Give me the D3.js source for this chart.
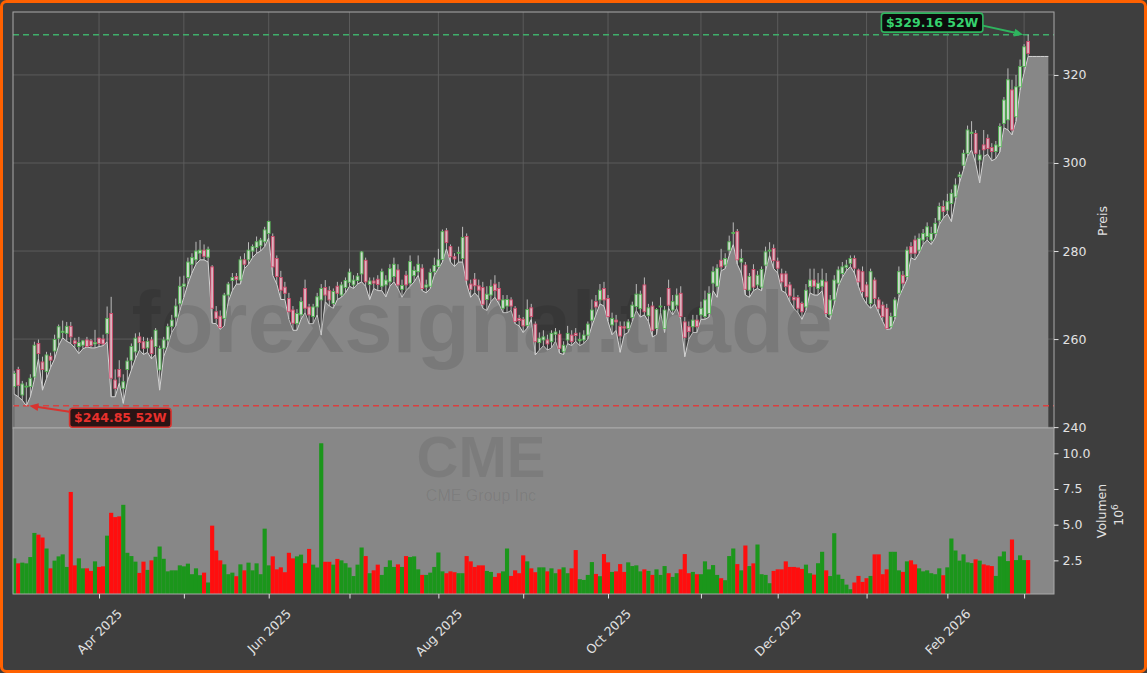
<!DOCTYPE html>
<html><head><meta charset="utf-8">
<script src="https://cdn.jsdelivr.net/npm/d3@7"></script>
<style>
html,body{margin:0;padding:0;background:#3e3e3e;}
svg{display:block;font-family:"DejaVu Sans",sans-serif;}
</style></head><body>
<svg id="chart" width="1147" height="673"></svg>
<script>
// ---------- DATA (trading days 2025-03-03 .. 2026-03-03) ----------
const opens=[249.2,253.1,247.3,249.1,249.2,251.4,259.0,254.8,252.6,256.1,
257.3,260.2,261.5,261.3,262.9,259.6,258.3,258.6,259.8,259.6,
258.9,260.2,260.0,261.3,265.8,250.7,253.1,248.8,253.1,255.2,
257.1,260.5,259.4,258.0,259.8,258.3,253.0,257.9,259.8,262.9,
265.0,268.0,272.0,274.0,277.0,278.0,279.5,280.2,278.6,276.4,
266.2,265.2,264.7,270.0,273.3,274.2,273.4,278.0,278.0,280.0,
280.8,281.2,282.1,284.0,283.3,278.3,274.0,271.8,269.2,266.6,
263.5,265.5,271.5,267.3,265.1,267.3,268.9,271.7,271.0,268.1,
272.0,270.0,271.7,272.9,272.3,273.3,274.8,277.9,272.4,273.2,
273.6,272.0,272.3,273.0,274.2,275.7,271.3,274.5,272.7,274.4,
275.3,276.1,271.8,272.0,275.3,276.5,278.1,284.6,281.0,278.7,
279.5,278.3,283.3,272.5,273.6,272.1,271.7,269.0,270.0,272.5,
271.5,267.0,267.5,268.9,267.0,264.7,264.5,263.1,267.1,263.4,
259.2,259.8,259.8,259.4,261.1,261.1,257.1,259.8,260.9,261.3,
259.6,259.8,260.9,264.3,268.5,268.9,271.5,269.2,263.2,264.3,
262.9,262.8,262.4,264.9,267.4,266.9,272.3,265.3,267.5,262.4,
267.3,262.4,271.5,266.6,267.7,270.4,263.9,262.8,262.8,264.3,
265.5,265.1,265.8,272.7,272.0,277.9,276.8,280.2,284.0,284.4,
277.5,276.8,271.1,275.8,272.3,271.8,276.8,280.0,280.6,277.7,
274.8,274.8,272.3,269.5,269.4,268.1,267.3,271.9,273.4,271.5,
272.0,273.0,265.5,268.9,272.7,274.9,276.3,277.2,278.3,275.7,
275.3,272.3,268.1,273.4,268.9,267.7,267.0,262.8,265.1,270.4,
274.5,274.2,281.0,282.5,280.2,282.5,283.3,282.5,284.0,287.0,
290.1,289.3,290.8,292.3,296.9,299.5,302.2,306.7,306.7,300.7,
304.1,305.6,303.5,302.6,303.7,309.0,309.8,316.6,310.5,317.3,
321.9,327.6];
const highs=[252.8,253.7,250.5,250.2,252.0,259.4,259.9,256.0,257.1,256.9,
261.0,263.3,264.2,263.9,263.9,260.3,260.5,259.8,260.5,260.0,
262.1,260.3,261.0,267.4,269.6,253.1,255.2,252.0,255.8,259.0,
261.3,261.5,260.5,260.3,260.5,262.5,258.5,260.5,263.5,265.5,
269.2,274.2,274.4,278.5,279.5,282.1,282.5,281.5,281.0,276.8,
267.5,266.5,270.5,273.0,275.0,275.0,278.8,279.5,282.0,281.5,
283.3,283.0,285.5,286.9,284.0,279.0,275.5,273.0,270.5,267.5,
266.8,269.5,273.5,268.0,268.0,270.5,272.5,273.4,272.0,271.5,
273.0,273.0,274.0,276.0,274.5,275.0,280.0,278.5,274.0,274.0,
274.5,276.0,274.5,277.0,278.5,277.0,273.5,275.5,279.0,276.5,
279.0,277.0,273.5,276.0,278.5,280.5,284.9,285.2,281.5,279.5,
281.0,285.5,284.0,273.5,275.0,273.5,273.0,272.0,273.5,274.5,
273.0,270.0,270.0,269.5,267.5,265.5,265.0,269.0,268.0,264.0,
261.5,262.0,261.0,262.0,262.5,262.0,259.5,263.0,262.0,262.5,
261.5,262.0,264.0,269.0,270.0,272.5,273.0,270.0,266.0,265.5,
264.0,264.0,264.5,268.5,272.5,271.0,274.0,268.0,268.5,267.0,
269.5,267.5,273.5,270.0,271.5,272.0,265.0,264.0,265.5,265.5,
268.5,271.0,272.0,276.5,277.0,280.5,279.5,283.5,286.5,285.0,
280.5,277.5,275.0,277.0,275.5,276.5,281.0,282.0,281.5,278.5,
276.0,275.5,273.0,271.5,270.0,268.5,272.5,276.0,276.0,275.0,
276.0,275.0,270.0,274.5,276.5,277.5,278.0,279.0,279.0,276.0,
276.5,273.0,276.0,274.0,269.5,268.5,268.0,266.0,269.5,276.5,
275.5,281.0,282.0,283.5,284.0,285.0,286.5,285.5,287.5,291.0,
291.5,293.0,294.0,296.5,298.0,303.0,308.5,309.5,307.5,303.0,
307.5,306.5,304.5,305.0,309.0,315.0,321.5,318.9,320.0,323.5,
327.0,329.16];
const lows=[247.5,246.9,246.1,244.85,246.9,250.8,255.5,248.4,251.0,253.5,
255.5,258.5,260.3,259.5,259.0,258.0,256.7,257.8,258.2,258.0,
258.0,258.3,258.5,259.4,246.9,246.9,250.0,245.4,250.3,253.0,
255.5,257.5,256.5,257.0,255.5,256.5,248.4,256.0,258.5,261.5,
263.0,266.5,269.5,272.5,275.0,277.0,278.0,278.0,277.5,263.6,
263.5,262.2,263.0,268.5,271.0,272.5,272.5,276.0,277.0,278.5,
279.5,280.0,281.0,283.0,274.5,272.5,269.0,269.0,264.5,262.0,
262.0,264.5,266.0,263.5,263.5,265.5,260.9,268.5,267.5,267.0,
269.0,269.5,270.5,272.0,271.5,272.5,273.0,272.0,269.0,271.5,
271.0,271.0,269.6,272.0,273.0,271.5,269.5,271.0,272.0,273.0,
274.5,271.0,270.5,271.5,274.5,276.0,277.5,280.5,277.5,276.5,
277.5,277.5,272.5,269.5,270.5,269.5,267.0,266.5,268.5,269.5,
268.0,266.0,266.0,266.5,263.5,263.0,261.5,262.5,264.5,256.4,
257.5,258.5,257.5,258.0,259.5,256.8,256.5,259.0,258.5,259.5,
258.5,259.0,260.0,263.0,265.5,268.0,267.5,264.0,261.0,262.0,
257.0,261.0,261.5,264.0,266.5,265.0,265.5,264.0,260.5,261.0,
266.0,261.5,267.0,265.5,267.0,264.5,256.0,260.0,261.5,261.5,
264.5,264.5,265.0,271.0,269.5,275.5,276.0,279.0,281.5,277.0,
275.0,270.0,269.5,271.0,271.5,271.0,275.5,279.0,276.0,275.0,
271.0,270.5,268.5,267.0,266.0,264.5,266.5,270.5,270.0,270.0,
271.0,265.0,264.5,268.0,272.0,274.0,275.5,276.5,275.0,272.0,
269.5,268.0,267.0,268.0,266.0,264.0,262.2,262.3,264.5,269.5,
271.5,273.5,278.5,278.0,279.5,281.5,282.5,281.5,283.0,286.0,
287.5,288.5,286.7,291.5,295.5,298.5,301.5,303.0,300.0,295.5,
301.5,302.0,300.5,301.0,302.5,308.0,307.5,306.4,309.5,316.5,
320.5,324.2];
const closes=[252.2,249.5,249.8,249.3,251.1,258.6,256.7,253.1,256.4,255.2,
259.9,262.8,261.8,262.9,260.5,259.0,259.2,259.6,258.3,258.5,
259.2,259.0,258.9,264.7,251.1,248.8,251.4,250.3,255.0,258.3,
260.2,259.2,257.9,259.5,256.7,262.0,257.9,259.8,262.8,264.3,
267.5,272.0,272.5,277.5,278.5,280.0,280.2,278.8,280.4,267.0,
264.7,262.6,270.0,272.5,274.0,273.5,278.0,277.0,280.2,281.0,
282.1,282.5,284.8,286.7,276.4,274.2,271.1,270.4,266.2,263.6,
265.8,268.5,267.0,265.5,267.3,269.6,271.5,270.0,268.9,270.8,
270.4,272.3,273.3,275.2,273.4,274.3,279.8,273.0,273.2,272.7,
272.4,275.3,273.4,276.0,277.0,272.3,272.2,272.3,277.6,275.6,
277.0,271.5,272.3,275.1,276.7,278.0,284.4,281.9,278.7,278.2,
279.7,283.1,273.4,271.3,272.1,271.1,267.9,270.2,272.0,271.0,
268.9,268.9,269.0,267.5,264.0,264.2,263.0,266.7,265.1,259.4,
260.2,260.5,258.9,261.3,261.6,257.9,258.6,261.3,259.4,260.8,
259.9,260.9,263.4,266.6,267.3,271.1,268.9,265.1,264.7,263.9,
260.7,262.5,263.9,267.7,270.2,270.2,266.2,267.1,262.0,266.7,
267.5,266.6,267.7,268.5,270.0,265.1,260.4,261.7,264.3,262.8,
267.0,268.9,270.4,275.3,276.1,276.4,278.3,282.1,284.2,278.0,
278.3,271.3,274.2,271.8,274.5,275.8,279.8,280.2,277.8,276.1,
273.0,271.9,269.8,268.9,267.0,266.2,271.1,273.4,272.0,272.7,
273.4,265.8,268.9,273.4,275.7,276.4,276.8,278.3,276.1,273.0,
270.8,269.6,275.3,269.2,267.0,265.1,262.4,265.1,268.9,275.3,
272.7,280.2,279.5,279.5,282.9,284.0,285.5,284.0,286.3,290.1,
289.0,291.2,293.1,295.0,297.3,302.2,307.5,307.0,302.2,301.8,
303.0,303.3,302.6,304.1,308.3,314.3,318.9,307.5,317.3,321.9,
326.4,324.9];
// volume in millions
const volumes=[2.64,2.29,2.34,2.29,2.73,4.42,4.30,4.10,3.33,1.94,
2.48,2.78,2.92,2.04,7.29,2.15,2.64,1.94,1.94,1.76,
2.43,2.04,2.08,4.23,5.83,5.53,5.58,6.39,3.03,2.80,
2.41,1.62,2.41,1.83,2.50,2.75,3.47,2.61,1.73,1.80,
1.80,2.15,2.08,2.27,1.53,1.94,1.46,1.64,0.95,4.93,
3.19,2.50,2.22,1.53,1.64,1.39,2.22,1.80,2.34,1.80,
2.29,1.53,4.72,2.15,2.78,1.87,2.01,1.67,3.03,2.64,
2.78,2.9,2.3,3.3,2.2,2.0,10.7,2.4,2.4,2.2,
2.6,2.5,2.3,2.0,1.4,2.2,3.4,2.8,1.6,1.8,
2.2,1.48,2.04,2.5,2.04,2.22,2.04,2.8,2.73,2.78,
1.87,1.48,1.48,1.64,2.04,3.05,1.73,1.6,1.73,1.67,
1.6,1.6,2.8,2.43,2.04,2.15,2.15,1.76,1.69,1.34,
1.6,1.73,3.33,1.41,1.8,1.6,2.85,2.43,1.94,1.67,
2.01,2.01,1.73,1.94,1.6,1.87,2.01,1.6,1.94,3.22,
1.18,1.13,1.48,2.38,1.55,1.39,2.94,2.36,1.69,1.73,
2.24,1.69,2.36,2.1,2.15,1.73,1.87,1.76,1.48,1.87,
1.48,2.1,1.6,1.34,1.6,1.87,2.94,1.6,1.69,1.53,
1.53,2.43,1.87,2.17,1.48,1.25,1.11,2.8,3.33,2.24,
1.8,3.54,2.1,2.29,3.61,1.53,1.48,0.9,1.76,1.87,
1.87,2.43,2.04,2.04,2.0,1.9,2.2,1.6,1.5,2.3,
3.1,1.8,1.4,4.4,1.5,1.2,0.8,0.48,0.95,1.41,
0.99,1.25,1.41,2.92,2.92,1.53,1.87,3.1,3.1,1.8,
1.69,2.43,2.5,2.22,1.94,1.73,1.8,1.6,1.53,1.94,
1.46,2.01,4.03,3.19,2.48,2.92,2.36,2.31,2.57,2.48,
2.22,2.15,2.1,1.41,2.78,3.12,2.45,3.96,2.52,2.85,
2.52,2.52];
// month ticks: trading-day index of the first session of each month
const tickIndex=[21,42,63,83,105,126,147,170,189,211,231,250];
const tickLabels=["Apr 2025","","Jun 2025","","Aug 2025","","Oct 2025","","Dec 2025","","Feb 2026",""];
const priceTicks=[240,260,280,300,320];
const volumeTicks=[2.5,5.0,7.5,10.0];
const areaPadDays=5; // fill carried past last session

// ---------- LAYOUT ----------
const L=13,R=1054,T=12,PB=428,VB=594;
const n=closes.length;
const svg=d3.select("#chart");
const x=d3.scaleLinear().domain([-0.3,257.4]).range([L,R]);
const y=d3.scaleLinear().domain([239.8,334.3]).range([PB,T]);
const vmin=d3.min(volumes)*0.3, vmax=d3.max(volumes)*1.1;
const yv=d3.scaleLinear().domain([vmin,vmax]).range([VB,PB]);
const step=x(1)-x(0);

const defs=svg.append("defs");
defs.append("clipPath").attr("id","cp").append("rect").attr("x",L).attr("y",T).attr("width",R-L).attr("height",PB-T);
defs.append("clipPath").attr("id","cv").append("rect").attr("x",L).attr("y",PB).attr("width",R-L).attr("height",VB-PB);

svg.append("rect").attr("width",1147).attr("height",673).attr("fill","#3e3e3e");

// price panel
const pp=svg.append("g");
pp.append("rect").attr("x",L).attr("y",T).attr("width",R-L).attr("height",PB-T).attr("fill","#3e3e3e");
const grid=pp.append("g").attr("clip-path","url(#cp)").attr("stroke","#5f5f5f").attr("stroke-width",0.9);
grid.selectAll(".gh").data(priceTicks).join("line").attr("x1",L).attr("x2",R).attr("y1",d=>y(d)).attr("y2",d=>y(d));
grid.selectAll(".gv").data(tickIndex).join("line").attr("x1",d=>x(d)).attr("x2",d=>x(d)).attr("y1",T).attr("y2",PB);

const areaData=lows.map((v,i)=>[i,v]);
for(let k=1;k<=areaPadDays;k++) areaData.push([n-1+k,lows[n-1]]);
const area=d3.area().x(d=>x(d[0])).y0(PB).y1(d=>y(d[1]));
const line=d3.line().x(d=>x(d[0])).y(d=>y(d[1]));
const pc=pp.append("g").attr("clip-path","url(#cp)");
pc.append("path").datum(areaData).attr("d",area).attr("fill","#878787");
pc.append("path").datum(areaData).attr("d",line).attr("fill","none").attr("stroke","#d4d4d4").attr("stroke-width",1);
pc.append("text").attr("x",482).attr("y",352).attr("text-anchor","middle")
  .style("font-family","'Liberation Sans',Arial,sans-serif").style("font-weight","bold").style("font-size","87px")
  .attr("fill","#000").attr("fill-opacity",0.1).text("forexsignal.trade");

const hi=d3.max(highs), lo=d3.min(lows);
const hiIdx=highs.indexOf(hi), loIdx=lows.indexOf(lo);
pc.append("line").attr("x1",L).attr("x2",R).attr("y1",y(hi)).attr("y2",y(hi))
  .attr("stroke","#3fae6a").attr("stroke-width",1.5).attr("stroke-dasharray","6,4");
pc.append("line").attr("x1",L).attr("x2",R).attr("y1",y(lo)).attr("y2",y(lo))
  .attr("stroke","#d9403f").attr("stroke-width",1.5).attr("stroke-dasharray","6,4");

// candles
const idx=d3.range(n);
const cg=pc.append("g").attr("opacity",0.88);
cg.selectAll(".wick").data(idx).join("line")
  .attr("x1",i=>x(i)).attr("x2",i=>x(i)).attr("y1",i=>y(highs[i])).attr("y2",i=>y(lows[i]))
  .attr("stroke","#cdcdcd").attr("stroke-width",1);
const bw=step*0.7;
cg.selectAll(".body").data(idx).join("rect")
  .attr("x",i=>x(i)-bw/2).attr("width",bw)
  .attr("y",i=>y(Math.max(opens[i],closes[i])))
  .attr("height",i=>Math.max(0.8,Math.abs(y(opens[i])-y(closes[i]))))
  .attr("fill",i=>closes[i]>=opens[i]?"#e4efe4":"#f0c6d2")
  .attr("stroke",i=>closes[i]>=opens[i]?"#52c152":"#e34a70").attr("stroke-width",0.9);

pp.append("rect").attr("x",L).attr("y",T).attr("width",R-L).attr("height",PB-T).attr("fill","none").attr("stroke","#a9a9a9");

// volume panel
const vp=svg.append("g");
vp.append("rect").attr("x",L).attr("y",PB).attr("width",R-L).attr("height",VB-PB).attr("fill","#878787");
const vc=vp.append("g").attr("clip-path","url(#cv)");
vc.append("text").attr("x",481).attr("y",477).attr("text-anchor","middle")
  .style("font-family","'Liberation Sans',Arial,sans-serif").style("font-weight","bold").style("font-size","58px")
  .attr("fill","#000").attr("fill-opacity",0.08).text("CME");
vc.append("text").attr("x",481).attr("y",501).attr("text-anchor","middle")
  .style("font-family","'Liberation Sans',Arial,sans-serif").style("font-size","16px")
  .attr("fill","#000").attr("fill-opacity",0.08).text("CME Group Inc");
vc.selectAll(".vb").data(idx).join("rect")
  .attr("x",i=>x(i)-step/2-0.05).attr("width",step+0.1)
  .attr("y",i=>yv(volumes[i])).attr("height",i=>VB-yv(volumes[i]))
  .attr("fill",i=>closes[i]>=opens[i]?"#1b961b":"#ff0e0e");
vp.append("rect").attr("x",L).attr("y",PB).attr("width",R-L).attr("height",VB-PB).attr("fill","none").attr("stroke","#a9a9a9");

// axes
const tcol="#e2e2e2";
function styleAxis(g){
  g.select(".domain").remove();
  g.selectAll(".tick line").attr("stroke",tcol);
  g.selectAll(".tick text").attr("fill",tcol).style("font-size","12.5px").style("font-family","'DejaVu Sans',sans-serif");
}
svg.append("g").attr("transform",`translate(${R},0)`)
  .call(d3.axisRight(y).tickValues(priceTicks).tickSize(4.5).tickPadding(4).tickFormat(d3.format("d"))).call(styleAxis);
svg.append("g").attr("transform",`translate(${R},0)`)
  .call(d3.axisRight(yv).tickValues(volumeTicks).tickSize(4.5).tickPadding(4).tickFormat(d3.format(".1f"))).call(styleAxis);
const xa=svg.append("g").attr("transform",`translate(0,${VB})`)
  .call(d3.axisBottom(x).tickValues(tickIndex).tickSize(4.5).tickFormat((d,i)=>tickLabels[i])).call(styleAxis);
xa.selectAll(".tick text").each(function(){
  const t=d3.select(this);
  const len=this.getComputedTextLength();
  const off=13+(len+12.5)/(2*Math.SQRT2);
  t.attr("x",0).attr("y",0).attr("dy","0.35em").attr("text-anchor","middle")
   .attr("transform",`translate(0,${off}) rotate(-45)`);
});

svg.append("text").attr("transform","translate(1107,221) rotate(-90)").attr("text-anchor","middle")
  .attr("fill",tcol).style("font-size","12.5px").text("Preis");
const vl=svg.append("text").attr("transform","translate(1106,511) rotate(-90)").attr("text-anchor","middle")
  .attr("fill",tcol).style("font-size","12.5px");
vl.append("tspan").attr("x",0).attr("y",0).text("Volumen");
vl.append("tspan").attr("x",-4).attr("y",17).text("10");
vl.append("tspan").attr("dy",-5).style("font-size","9px").text("6");

// annotations
function note(px,py,bx,by,txt,col,fill,border){
  const g=svg.append("g");
  const tx=g.append("text").attr("x",bx).attr("y",by).attr("text-anchor","middle").attr("dy","0.35em")
    .attr("fill",col).style("font-weight","bold").style("font-size","12.5px").text(txt);
  const w=tx.node().getComputedTextLength()+9, h=19;
  g.insert("rect","text").attr("x",bx-w/2).attr("y",by-h/2).attr("width",w).attr("height",h).attr("rx",3)
    .attr("fill",fill).attr("stroke",border).attr("stroke-width",1.6);
  const sx = px>bx ? bx+w/2 : bx-w/2;
  const sy = by + (py>by?3:-6);
  const ang=Math.atan2(py-sy,px-sx);
  g.append("line").attr("x1",sx).attr("y1",sy).attr("x2",px-7*Math.cos(ang)).attr("y2",py-7*Math.sin(ang))
    .attr("stroke",border).attr("stroke-width",2);
  const a=9,b=4;
  const p1=[px-a*Math.cos(ang)+b*Math.sin(ang),py-a*Math.sin(ang)-b*Math.cos(ang)];
  const p2=[px-a*Math.cos(ang)-b*Math.sin(ang),py-a*Math.sin(ang)+b*Math.cos(ang)];
  g.append("path").attr("d",`M${px},${py}L${p1[0]},${p1[1]}L${p2[0]},${p2[1]}Z`).attr("fill",border);
}
note(x(hiIdx)-5,y(hi),x(hiIdx)-96,y(hi)-12,`$${hi.toFixed(2)} 52W`,"#36d26e","#0c0c0c","#2fb45e");
note(x(loIdx)+3,y(lo),x(loIdx)+94,y(lo)+12,`$${lo.toFixed(2)} 52W`,"#e8302c","#2a1414","#d8332f");

// outer frame
svg.append("rect").attr("x",1.5).attr("y",1.5).attr("width",1144).attr("height",670).attr("rx",5)
  .attr("fill","none").attr("stroke","#ff6100").attr("stroke-width",3);
</script>
</body></html>
